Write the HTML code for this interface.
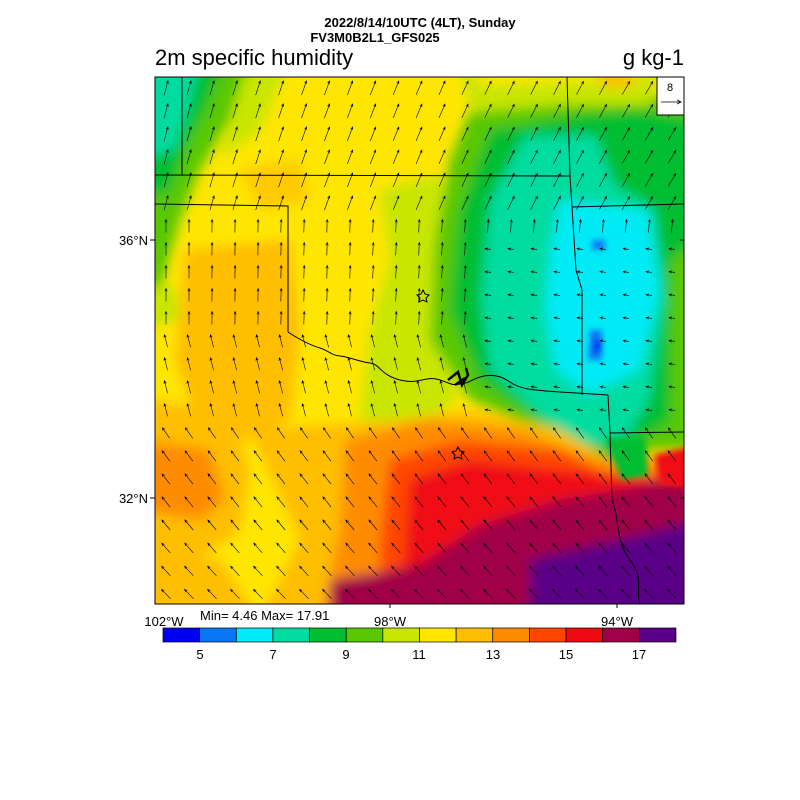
<!DOCTYPE html>
<html><head><meta charset="utf-8"><style>
body{margin:0;background:#fff;width:800px;height:800px;overflow:hidden;font-family:"Liberation Sans",sans-serif}
svg{position:absolute;left:0;top:0}
</style></head><body>
<svg width="800" height="800" xmlns="http://www.w3.org/2000/svg" font-family="Liberation Sans, sans-serif">
<defs>
<clipPath id="c"><rect x="155" y="77" width="529" height="527"/></clipPath>
<filter id="b" x="-20%" y="-20%" width="140%" height="140%"><feGaussianBlur stdDeviation="6"/></filter>
<filter id="b2"><feGaussianBlur stdDeviation="3"/></filter>
</defs>
<text x="420" y="27" font-size="13" font-weight="bold" text-anchor="middle">2022/8/14/10UTC (4LT), Sunday</text>
<text x="375" y="42" font-size="13" font-weight="bold" text-anchor="middle">FV3M0B2L1_GFS025</text>
<text x="155" y="65" font-size="22">2m specific humidity</text>
<text x="684" y="65" font-size="22" text-anchor="end">g kg-1</text>
<g clip-path="url(#c)">
<rect x="155" y="77" width="529" height="527" fill="#ffe600"/>
<g filter="url(#b)">
<path d="M185 250 L290 240 L300 330 L290 420 L250 440 L200 430 L175 360Z" fill="#ffbe00"/>
<path d="M240 170 L300 160 L310 200 L260 210Z" fill="#ffbe00" opacity=".7"/>
<path d="M140 400 L230 410 L250 470 L240 530 L200 560 L140 560Z" fill="#ffbe00"/>
<path d="M140 440 L210 450 L225 500 L200 520 L140 510Z" fill="#ff8c00"/>
<path d="M140 560 L220 560 L260 620 L140 620Z" fill="#ffbe00"/>
<path d="M295 450 L345 440 L345 530 L300 530Z" fill="#c8e600"/>
<path d="M140 60 L250 60 L230 120 L200 170 L180 220 L160 290 L140 300Z" fill="#5ac800"/>
<path d="M140 60 L225 60 L205 110 L185 150 L170 190 L140 200Z" fill="#00be32"/>
<path d="M140 60 L200 60 L188 110 L175 150 L140 160Z" fill="#00dca0"/>
<path d="M140 290 L175 285 L180 320 L140 330Z" fill="#c8e600"/>
<path d="M250 60 L290 60 L260 130 L220 160Z" fill="#c8e600"/>
<path d="M380 190 L440 175 L460 260 L455 400 L420 430 L360 420 L370 330 L390 260Z" fill="#c8e600"/>
<path d="M470 110 L560 100 L700 95 L700 450 L650 450 L620 480 L590 450 L540 430 L470 400 L430 340 L435 240 L450 160Z" fill="#5ac800"/>
<path d="M490 130 L580 115 L640 110 L700 120 L700 240 L670 260 L670 420 L640 440 L620 470 L600 445 L540 420 L480 380 L450 310 L460 210Z" fill="#00be32"/>
<path d="M525 135 L595 135 L615 185 L655 210 L665 300 L650 400 L625 440 L590 445 L545 420 L490 370 L480 300 L490 200Z" fill="#00dca0"/>
<path d="M560 200 L648 210 L660 290 L640 370 L590 395 L555 370 L545 310 L550 250Z" fill="#00ebf5"/>
<path d="M460 60 L660 60 L650 105 L560 105 L470 112Z" fill="#c8e600"/>
<path d="M470 60 L650 60 L640 80 L480 85Z" fill="#ffe600"/>
<path d="M590 60 L640 60 L630 88 L605 88Z" fill="#ffbe00"/>
<path d="M250 430 L400 420 L470 410 L560 430 L610 460 L700 450 L700 620 L260 620 L300 540Z" fill="#ffbe00"/>
<path d="M345 440 L430 420 L520 430 L600 460 L700 460 L700 620 L320 620 L340 530Z" fill="#ff8c00"/>
<path d="M390 460 L460 440 L560 450 L620 480 L700 470 L700 620 L380 620 L380 540Z" fill="#ff4600"/>
<path d="M410 480 L470 460 L560 470 L700 480 L700 620 L400 620Z" fill="#f00a14"/>
<path d="M330 580 L420 565 L480 525 L560 500 L620 490 L700 470 L700 620 L330 620Z" fill="#a00046"/>
<path d="M530 560 L620 540 L700 520 L700 620 L530 620Z" fill="#5a0087"/>
</g>
<g filter="url(#b2)">
<path d="M605 438 L645 438 L648 475 L622 480Z" fill="#00be32"/>
<path d="M590 330 L602 330 L602 360 L588 360Z" fill="#0a78f5"/>
<path d="M595 340 L601 340 L600 352 L594 352Z" fill="#0000f0"/>
<path d="M592 240 L605 240 L605 250 L592 250Z" fill="#0a78f5"/>
<path d="M655 455 L700 445 L700 490 L660 485Z" fill="#f00a14"/>
</g>
<g id="arr" stroke="#000" stroke-width="0.6" fill="none"></g>
<g stroke="#000" stroke-width="1" fill="none">
<path d="M155 175 L570 176"/>
<path d="M182 77 L182 175"/>
<path d="M155 204 L288 206 L288 332"/>
<path d="M567 77 L570 176 L572 207 L576 270 L582 290 L582 395"/>
<path d="M572 207 L684 204"/>
<path d="M288 332 C300 340 310 345 320 348 S330 355 340 356 S360 362 370 363 S380 375 400 380 S425 375 440 380 S450 385 460 384 S470 380 480 377 S500 375 510 382 S530 390 560 392 L608 395"/>
<path d="M448 380 L458 372 L462 385 L468 375 L466 368 M455 385 L465 378" stroke-width="2.5"/>
<path d="M608 395 L610 433 L612 500 C620 520 615 540 630 560 S635 590 640 604"/>
<path d="M610 433 L684 432"/>
</g>
<g fill="none" stroke="#000" stroke-width="1">
<polygon points="423,290 425,294 429,295 426,298 427,302 423,300 419,302 420,298 417,295 421,294"/>
<polygon points="458,447 460,451 464,452 461,455 462,459 458,457 454,459 455,455 452,452 456,451"/>
</g>
</g>
<rect x="155" y="77" width="529" height="527" fill="none" stroke="#000" stroke-width="1"/>
<rect x="657" y="77" width="27" height="38" fill="#fff" stroke="#000"/>
<text x="670" y="91" font-size="11" text-anchor="middle">8</text>
<path d="M661 102 L681 102 M677 100 L681 102 L677 104" stroke="#000" fill="none" stroke-width=".8"/>
<g stroke="#000"><line x1="150" y1="240" x2="155" y2="240"/><line x1="150" y1="498" x2="155" y2="498"/>
<line x1="684" y1="240" x2="680" y2="240"/><line x1="684" y1="498" x2="680" y2="498"/>
<line x1="390" y1="604" x2="390" y2="608"/><line x1="617" y1="604" x2="617" y2="608"/></g>
<text x="148" y="245" font-size="13" text-anchor="end">36°N</text>
<text x="148" y="503" font-size="13" text-anchor="end">32°N</text>
<text x="164" y="626" font-size="13" text-anchor="middle">102°W</text>
<text x="390" y="626" font-size="13" text-anchor="middle">98°W</text>
<text x="617" y="626" font-size="13" text-anchor="middle">94°W</text>
<text x="200" y="620" font-size="13">Min= 4.46 Max= 17.91</text>
<g id="cb" stroke="#000" stroke-width=".7"></g>
<g font-size="13" text-anchor="middle">
<text x="200" y="659">5</text><text x="273" y="659">7</text><text x="346" y="659">9</text>
<text x="419" y="659">11</text><text x="493" y="659">13</text><text x="566" y="659">15</text><text x="639" y="659">17</text>
</g>
</svg>
<script>
var cols=["#0000f0","#0a78f5","#00ebf5","#00dca0","#00be32","#5ac800","#c8e600","#ffe600","#ffbe00","#ff8c00","#ff4600","#f00a14","#a00046","#5a0087"];
var cb=document.getElementById("cb"),ns="http://www.w3.org/2000/svg";
for(var i=0;i<14;i++){var r=document.createElementNS(ns,"rect");r.setAttribute("x",163+i*36.64);r.setAttribute("y",628);r.setAttribute("width",36.64);r.setAttribute("height",14);r.setAttribute("fill",cols[i]);cb.appendChild(r);}
var g=document.getElementById("arr"),d="";
for(var y=88;y<604;y+=23)for(var x=166;x<684;x+=23){
 var t=(y-77)/527,ang,len=13;
 if(y<210){ang=-Math.PI/2+0.25+0.3*(x-155)/529;len=15;}
 else if(y<330){ang=-Math.PI/2+0.1*(x-155)/529;}
 else if(y<420){ang=-Math.PI/2-0.25;}
 else {ang=-Math.PI/2-0.6-0.5*(t-0.65);}
 if(x>480&&y>240&&y<430){ang=Math.PI+0.15;len=6;}
 var dx=Math.cos(ang)*len/2,dy=Math.sin(ang)*len/2;
 var x1=x-dx,y1=y-dy,x2=x+dx,y2=y+dy;
 var a1=ang+Math.PI-0.4,a2=ang+Math.PI+0.4;
 d+="M"+x1.toFixed(1)+" "+y1.toFixed(1)+"L"+x2.toFixed(1)+" "+y2.toFixed(1)+"M"+(x2+3*Math.cos(a1)).toFixed(1)+" "+(y2+3*Math.sin(a1)).toFixed(1)+"L"+x2.toFixed(1)+" "+y2.toFixed(1)+"L"+(x2+3*Math.cos(a2)).toFixed(1)+" "+(y2+3*Math.sin(a2)).toFixed(1);
}
var p=document.createElementNS(ns,"path");p.setAttribute("d",d);g.appendChild(p);
</script>
</body></html>
